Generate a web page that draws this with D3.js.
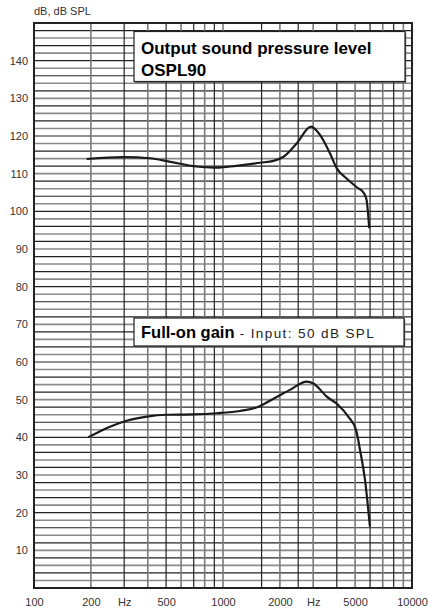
<!DOCTYPE html>
<html>
<head>
<meta charset="utf-8">
<script src="https://cdn.jsdelivr.net/npm/d3@7"></script>
<style>
  body { margin: 0; background: #fff; }
  svg { display: block; font-family: "Liberation Sans", Arial, sans-serif; }
</style>
</head>
<body>
<div id="chart"></div>
<script>
// frequency response data
const osplFreq = [190, 300, 410, 520, 725, 890, 1090, 1570, 1850, 2090, 2450, 2920, 3260, 3680, 4000, 4510, 5100, 5570, 5750, 5940];
const osplDb   = [113.9, 114.4, 114.1, 113.2, 111.9, 111.6, 111.9, 112.9, 113.4, 114.5, 118.0, 122.5, 120.3, 115.4, 111.4, 108.7, 106.4, 104.8, 103.0, 95.5];

const gainFreq = [194, 252, 309, 395, 504, 696, 926, 1230, 1540, 1770, 2260, 2770, 3010, 3540, 4070, 4600, 5060, 5310, 5640, 5990];
const gainDb   = [40.0, 42.8, 44.4, 45.5, 46.0, 46.1, 46.4, 47.0, 48.1, 49.7, 52.6, 54.8, 54.3, 50.8, 48.6, 45.5, 41.9, 36.6, 28.7, 16.3];

// axis ticks
const xTickValues = [100, 200, 300, 500, 1000, 2000, 3000, 5000, 10000];
const xTickLabels = ["100", "200", "Hz", "500", "1000", "2000", "Hz", "5000", "10000"];
const xGridFreqs = [200, 300, 400, 500, 600, 700, 800, 900, 1000, 1600, 2000, 2500, 3000, 4000, 5000, 6000, 7000, 8000, 9000];
const yTickValues = [10, 20, 30, 40, 50, 60, 70, 80, 90, 100, 110, 120, 130, 140];
const yGridValues = d3.range(2, 150, 2);

const width = 428;
const height = 612;
const margin = {top: 23, left: 34, right: 16, bottom: 24};

const svg = d3.select("#chart")
    .append("svg")
    .attr("width", width)
    .attr("height", height);

const x = d3.scaleLog()
    .domain([100, 10000])
    .range([margin.left, width - margin.right]);

const y = d3.scaleLinear()
    .domain([0, 150])
    .range([height - margin.bottom, margin.top]);

// grid
const grid = svg.append("g");
grid.selectAll("line.h")
    .data(yGridValues)
    .enter()
    .append("line")
    .attr("x1", x(100))
    .attr("x2", x(10000))
    .attr("y1", d => y(d))
    .attr("y2", d => y(d))
    .attr("stroke", (d, i) => i % 2 ? "#222" : "#8a8a8a")
    .attr("stroke-width", (d, i) => i % 2 ? 1.2 : 1.6);

grid.selectAll("line.v")
    .data(xGridFreqs)
    .enter()
    .append("line")
    .attr("x1", d => x(d))
    .attr("x2", d => x(d))
    .attr("y1", y(0))
    .attr("y2", y(150))
    .attr("stroke", (d, i) => i % 2 ? "#222" : "#7a7a7a")
    .attr("stroke-width", (d, i) => i % 2 ? 1.2 : 1.6);

// frame
svg.append("rect")
    .attr("x", x(100))
    .attr("y", y(150))
    .attr("width", x(10000) - x(100))
    .attr("height", y(0) - y(150))
    .attr("fill", "none")
    .attr("stroke", "#222")
    .attr("stroke-width", 2);

// axes
const xAxis = svg.append("g")
    .attr("transform", `translate(0,${y(0)})`)
    .call(d3.axisBottom(x)
        .tickValues(xTickValues)
        .tickFormat((d, i) => xTickLabels[i])
        .tickSize(0)
        .tickPadding(10));

const yAxis = svg.append("g")
    .attr("transform", `translate(${x(100) - 5},0)`)
    .call(d3.axisLeft(y)
        .tickValues(yTickValues)
        .tickSize(0)
        .tickPadding(1));

[xAxis, yAxis].forEach(a => {
    a.select(".domain").remove();
    a.selectAll("text")
        .attr("font-size", 11)
        .attr("fill", "#333")
        .attr("font-family", "Liberation Sans, Arial, sans-serif");
});

svg.append("text")
    .attr("x", x(100))
    .attr("y", 15)
    .attr("font-size", 11)
    .attr("fill", "#333")
    .text("dB, dB SPL");

// curves
const line = d3.line()
    .x(d => x(d[0]))
    .y(d => y(d[1]))
    .curve(d3.curveMonotoneX);

const series = [
    d3.zip(osplFreq, osplDb),
    d3.zip(gainFreq, gainDb)
];

svg.selectAll("path.curve")
    .data(series)
    .enter()
    .append("path")
    .attr("class", "curve")
    .attr("d", line)
    .attr("fill", "none")
    .attr("stroke", "#1a1a1a")
    .attr("stroke-width", 2.2);

// label boxes
function box(x0, y0, w, h) {
    svg.append("rect")
        .attr("x", x0 + 1.2)
        .attr("y", y0 + 1.2)
        .attr("width", w)
        .attr("height", h)
        .attr("fill", "#555");
    svg.append("rect")
        .attr("x", x0)
        .attr("y", y0)
        .attr("width", w)
        .attr("height", h)
        .attr("fill", "#fff")
        .attr("stroke", "#222")
        .attr("stroke-width", 1.2);
}

box(134, 31.5, 271, 50);
svg.append("text")
    .attr("x", 141)
    .attr("y", 54)
    .attr("font-size", 17)
    .attr("font-weight", "bold")
    .attr("fill", "#000")
    .text("Output sound pressure level");
svg.append("text")
    .attr("x", 141)
    .attr("y", 76)
    .attr("font-size", 17)
    .attr("font-weight", "bold")
    .attr("fill", "#000")
    .text("OSPL90");

box(134, 318, 270, 28);
const gainLabel = svg.append("text")
    .attr("x", 141)
    .attr("y", 338)
    .attr("fill", "#000");
gainLabel.append("tspan")
    .attr("font-size", 16.5)
    .attr("font-weight", "bold")
    .text("Full-on gain");
gainLabel.append("tspan")
    .attr("font-size", 13.5)
    .attr("letter-spacing", 1.4)
    .attr("fill", "#222")
    .text(" - Input: 50 dB SPL");
</script>
</body>
</html>
